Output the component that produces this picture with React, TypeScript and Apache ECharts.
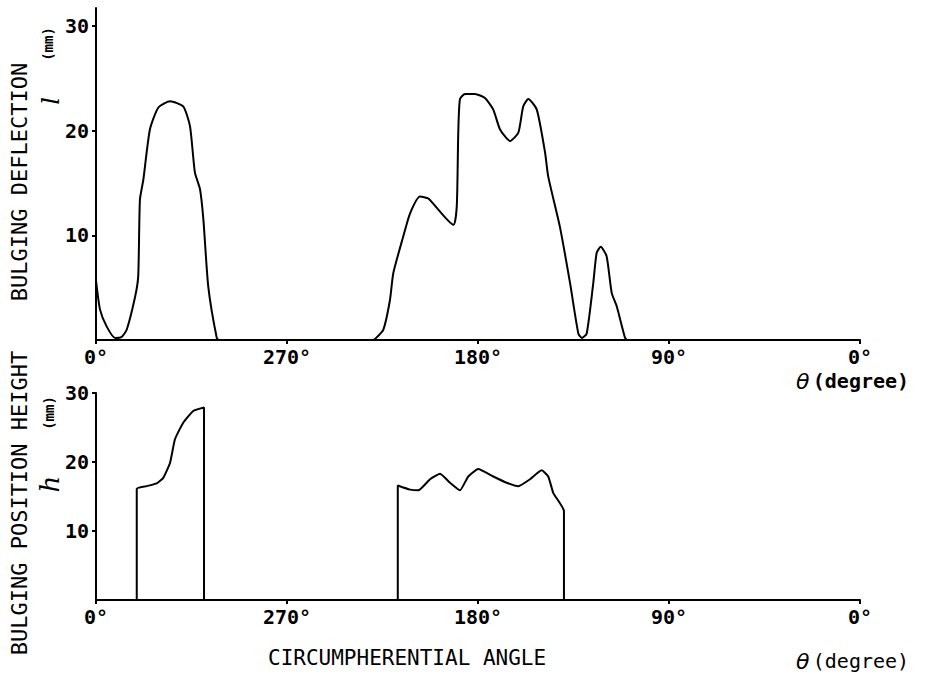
import React, { useEffect, useRef } from "react";
import * as echarts from "echarts";

// Top panel: bulging deflection l (mm) vs circumferential angle θ (degree)
const deflTheta = [360, 358.1, 355.0, 351.0, 347.9, 345.5, 341.6, 340.1, 339.3, 337.7, 334.6, 330.6, 325.1, 318.9, 315.7, 313.4, 311.0, 309.4, 307.1, 303.1, 302, 229.5, 228.5, 224.6, 221.5, 219.9, 215.2, 212.0, 207.3, 203.4, 191.6, 190.0, 189.3, 188.5, 186.1, 181.4, 176.7, 172.8, 169.6, 164.9, 161.0, 158.7, 156.3, 152.3, 148.4, 146.9, 141.4, 136.6, 132.7, 131.1, 128.8, 125.7, 124.1, 122.2, 119.4, 117.0, 114.6, 110.7, 109.5, 0];
const deflValue = [5.7, 2.9, 1.3, 0.2, 0.3, 1.0, 4.1, 6.1, 13.4, 15.3, 20.1, 22.2, 22.8, 22.3, 20.4, 16.0, 14.4, 11.5, 5.1, 0.2, 0, 0, 0.1, 1.0, 3.8, 6.4, 9.9, 12.1, 13.7, 13.5, 11.0, 12.8, 19.8, 23.0, 23.5, 23.5, 23.1, 22.0, 20.1, 19.0, 19.8, 22.3, 23.0, 22.0, 17.9, 15.6, 10.8, 5.4, 0.6, 0.2, 0.6, 5.4, 8.3, 8.9, 8.0, 4.5, 3.2, 0.2, 0, 0];

// Bottom panel: bulging position height h (mm), two bulged zones
const heightTheta1 = [340.8, 340.8, 336.1, 331.4, 328.3, 325.1, 322.8, 318.9, 314.2, 309.1, 309.1];
const heightValue1 = [0, 16.1, 16.5, 16.9, 17.7, 19.9, 23.3, 25.7, 27.4, 27.9, 0];
const heightTheta2 = [217.8, 217.8, 212.0, 208.1, 202.6, 197.9, 193.2, 188.5, 184.6, 179.9, 172.8, 166.5, 161.0, 155.5, 150.0, 146.9, 144.5, 139.5, 139.5];
const heightValue2 = [0, 16.6, 16.0, 15.9, 17.5, 18.3, 17.0, 15.9, 17.9, 19.0, 17.9, 17.0, 16.5, 17.5, 18.8, 17.9, 15.5, 12.9, 0];

const xTicks = [0, 90, 180, 270, 360];
const yTickLabels = [10, 20, 30];

const pair = (xs: number[], ys: number[]) => xs.map((x, i) => [x, ys[i]]);

const MONO = "'DejaVu Sans Mono', monospace";

export default function App() {
  const ref = useRef<HTMLDivElement>(null);
  useEffect(() => {
    if (!ref.current) return;
    const chart = echarts.init(ref.current, null, { renderer: "svg" });
    const xAxisBase = (gridIndex: number) => ({
      type: "value" as const,
      gridIndex,
      min: 0,
      max: 360,
      interval: 90,
      inverse: true,
      position: "bottom" as const,
      axisLine: { onZero: false, lineStyle: { color: "#000", width: 2 } },
      axisTick: { show: true, length: 4, inside: false, lineStyle: { color: "#000", width: 2 }, customValues: xTicks },
      axisLabel: {
        customValues: xTicks,
        color: "#000",
        fontFamily: MONO,
        fontWeight: "bold",
        fontSize: 20,
        margin: 7,
        formatter: (v: number) => (v === 360 ? 0 : v) + "°",
      },
      splitLine: { show: false },
    });
    const yAxisBase = (gridIndex: number, max: number) => ({
      type: "value" as const,
      gridIndex,
      min: 0,
      max,
      position: "left" as const,
      axisLine: { show: true, onZero: false, lineStyle: { color: "#000", width: 2 } },
      axisTick: { show: true, length: 4, lineStyle: { color: "#000", width: 2 }, customValues: yTickLabels },
      axisLabel: {
        customValues: yTickLabels,
        color: "#000",
        fontFamily: MONO,
        fontWeight: "bold",
        fontSize: 20,
        margin: 7,
      },
      splitLine: { show: false },
    });
    const lineStyle = { color: "#000", width: 2 };
    const rotText = (text: string, x: number, y: number, extra: any) => ({
      type: "text",
      x,
      y,
      rotation: Math.PI / 2,
      style: { text, fill: "#000", align: "center", verticalAlign: "middle", ...extra },
    });
    chart.setOption({
      animation: false,
      backgroundColor: "#fff",
      grid: [
        { left: 96, right: 73, top: 8, height: 332 },
        { left: 96, right: 73, top: 393, height: 207 },
      ],
      xAxis: [xAxisBase(0), xAxisBase(1)],
      yAxis: [yAxisBase(0, 31.7), yAxisBase(1, 30)],
      series: [
        {
          type: "line",
          xAxisIndex: 0,
          yAxisIndex: 0,
          data: pair(deflTheta, deflValue),
          showSymbol: false,
          smooth: 0.2,
          lineStyle,
        },
        {
          type: "line",
          xAxisIndex: 1,
          yAxisIndex: 1,
          data: pair(heightTheta1, heightValue1),
          showSymbol: false,
          smooth: 0.15,
          lineStyle,
        },
        {
          type: "line",
          xAxisIndex: 1,
          yAxisIndex: 1,
          data: pair(heightTheta2, heightValue2),
          showSymbol: false,
          smooth: 0.15,
          lineStyle,
        },
      ],
      graphic: [
        rotText("BULGING DEFLECTION", 19, 182, { fontFamily: MONO, fontSize: 22 }),
        rotText("l", 51, 101, { fontFamily: "'DejaVu Serif', serif", fontStyle: "italic", fontSize: 24 }),
        rotText("(mm)", 48, 44, { fontFamily: MONO, fontWeight: "bold", fontSize: 14 }),
        rotText("BULGING POSITION HEIGHT", 19, 503, { fontFamily: MONO, fontSize: 22 }),
        rotText("h", 50, 484, { fontFamily: "'DejaVu Serif', serif", fontStyle: "italic", fontSize: 26 }),
        rotText("(mm)", 49, 413, { fontFamily: MONO, fontWeight: "bold", fontSize: 14 }),
        {
          type: "text",
          x: 796,
          y: 381,
          style: {
            text: "{t|θ} {s|(degree)}",
            align: "left",
            verticalAlign: "middle",
            rich: {
              t: { fontFamily: "'DejaVu Sans', sans-serif", fontStyle: "italic", fontSize: 22, fill: "#000" },
              s: { fontFamily: MONO, fontWeight: "bold", fontSize: 20, fill: "#000" },
            },
          },
        },
        {
          type: "text",
          x: 796,
          y: 661,
          style: {
            text: "{t|θ} {s|(degree)}",
            align: "left",
            verticalAlign: "middle",
            rich: {
              t: { fontFamily: "'DejaVu Sans', sans-serif", fontStyle: "italic", fontSize: 22, fill: "#000" },
              s: { fontFamily: MONO, fontSize: 20, fill: "#000" },
            },
          },
        },
        {
          type: "text",
          x: 268,
          y: 658,
          style: {
            text: "CIRCUMPHERENTIAL ANGLE",
            fontFamily: MONO,
            fontSize: 21,
            fill: "#000",
            align: "left",
            verticalAlign: "middle",
          },
        },
      ],
    });
    return () => chart.dispose();
  }, []);
  return (
    <div
      ref={ref}
      style={{ position: "fixed", left: 0, top: 0, width: 933, height: 673, background: "#fff" }}
    />
  );
}
